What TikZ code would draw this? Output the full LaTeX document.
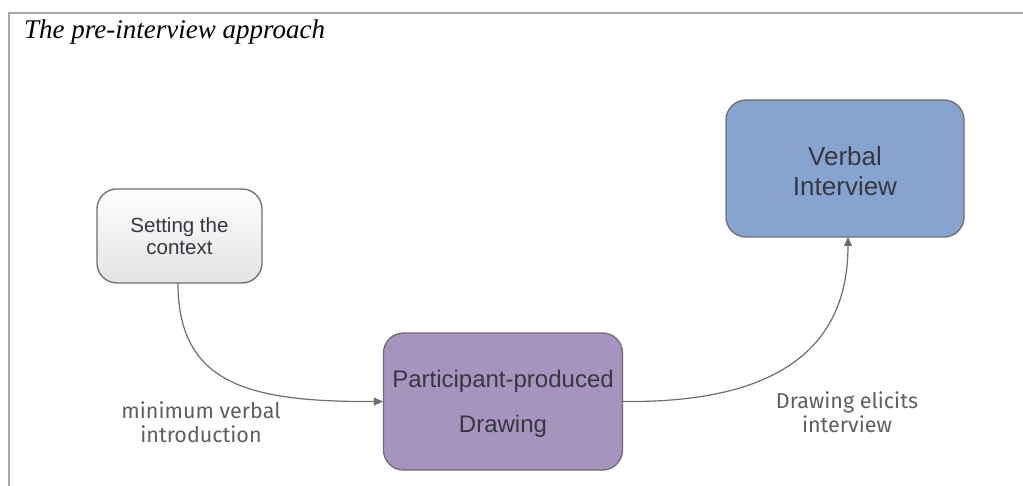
\documentclass[tikz,border=0pt]{standalone}
\usepackage{fontspec}
\setmainfont{Liberation Serif}
\newfontfamily\boxfont{Liberation Sans}
\newfontfamily\labfont{Fira Sans}
\usetikzlibrary{arrows.meta,shadings}
\definecolor{framegray}{RGB}{170,170,170}
\definecolor{edgegray}{RGB}{110,110,110}
\definecolor{purplefill}{RGB}{166,148,190}
\definecolor{bluefill}{RGB}{135,163,207}
\definecolor{textdark}{RGB}{55,55,65}
\definecolor{labgray}{RGB}{95,95,95}
\tikzset{
  x=1pt, y=-1pt,
  boxstyle/.style={draw=edgegray, line width=1.3pt, rounded corners=20pt, align=center,
    font=\boxfont, text=textdark, inner sep=0pt},
  conn/.style={draw=edgegray, line width=1.2pt, -{Triangle[length=9pt,width=8pt]}},
  lab/.style={font=\labfont\fontsize{21.5}{24}\selectfont, text=labgray, align=center}
}
\begin{document}
\begin{tikzpicture}
\useasboundingbox (0,0) rectangle (1023,486);
\fill[white] (0,0) rectangle (1023,486);
\draw[framegray, line width=1.5pt] (1023,13) -- (9,13) -- (9,486);
\node[anchor=base west, font=\itshape\fontsize{27}{32}\selectfont, inner sep=0pt] (title) at (24,39) {The pre-interview approach};
\node[boxstyle, minimum width=165pt, minimum height=94pt, top color=white, bottom color=gray!22] (ctx) at (179.5,236) {};
\node[font=\boxfont\fontsize{20.5}{22}\selectfont, text=textdark, align=center] (ctxt) at (ctx.center) {Setting the\\context};
\node[boxstyle, minimum width=239pt, minimum height=137pt, fill=purplefill] (draw) at (503,401.5) {};
\node[font=\boxfont\fontsize{24}{45}\selectfont, text=textdark, align=center] (drawt) at ([yshift=-2pt]draw.center) {Participant-produced\\Drawing};
\node[boxstyle, minimum width=238pt, minimum height=137pt, fill=bluefill] (verb) at (845,168.5) {};
\node[font=\boxfont\fontsize{26}{30}\selectfont, text=textdark, align=center] (verbt) at ([yshift=-3pt]verb.center) {Verbal\\Interview};
\coordinate (s1) at (178,283);
\coordinate (e1) at (draw.west);
\draw[conn] (s1) .. controls (178,385) and (250,402) .. (e1);
\coordinate (e2) at (848,237);
\draw[conn] (draw.east) .. controls (760,403) and (848,360) .. (e2);
\node[lab] (l1) at (201,422) {minimum verbal\\introduction};
\node[lab] (l2) at (847,412) {Drawing elicits\\interview};
\end{tikzpicture}
\end{document}
